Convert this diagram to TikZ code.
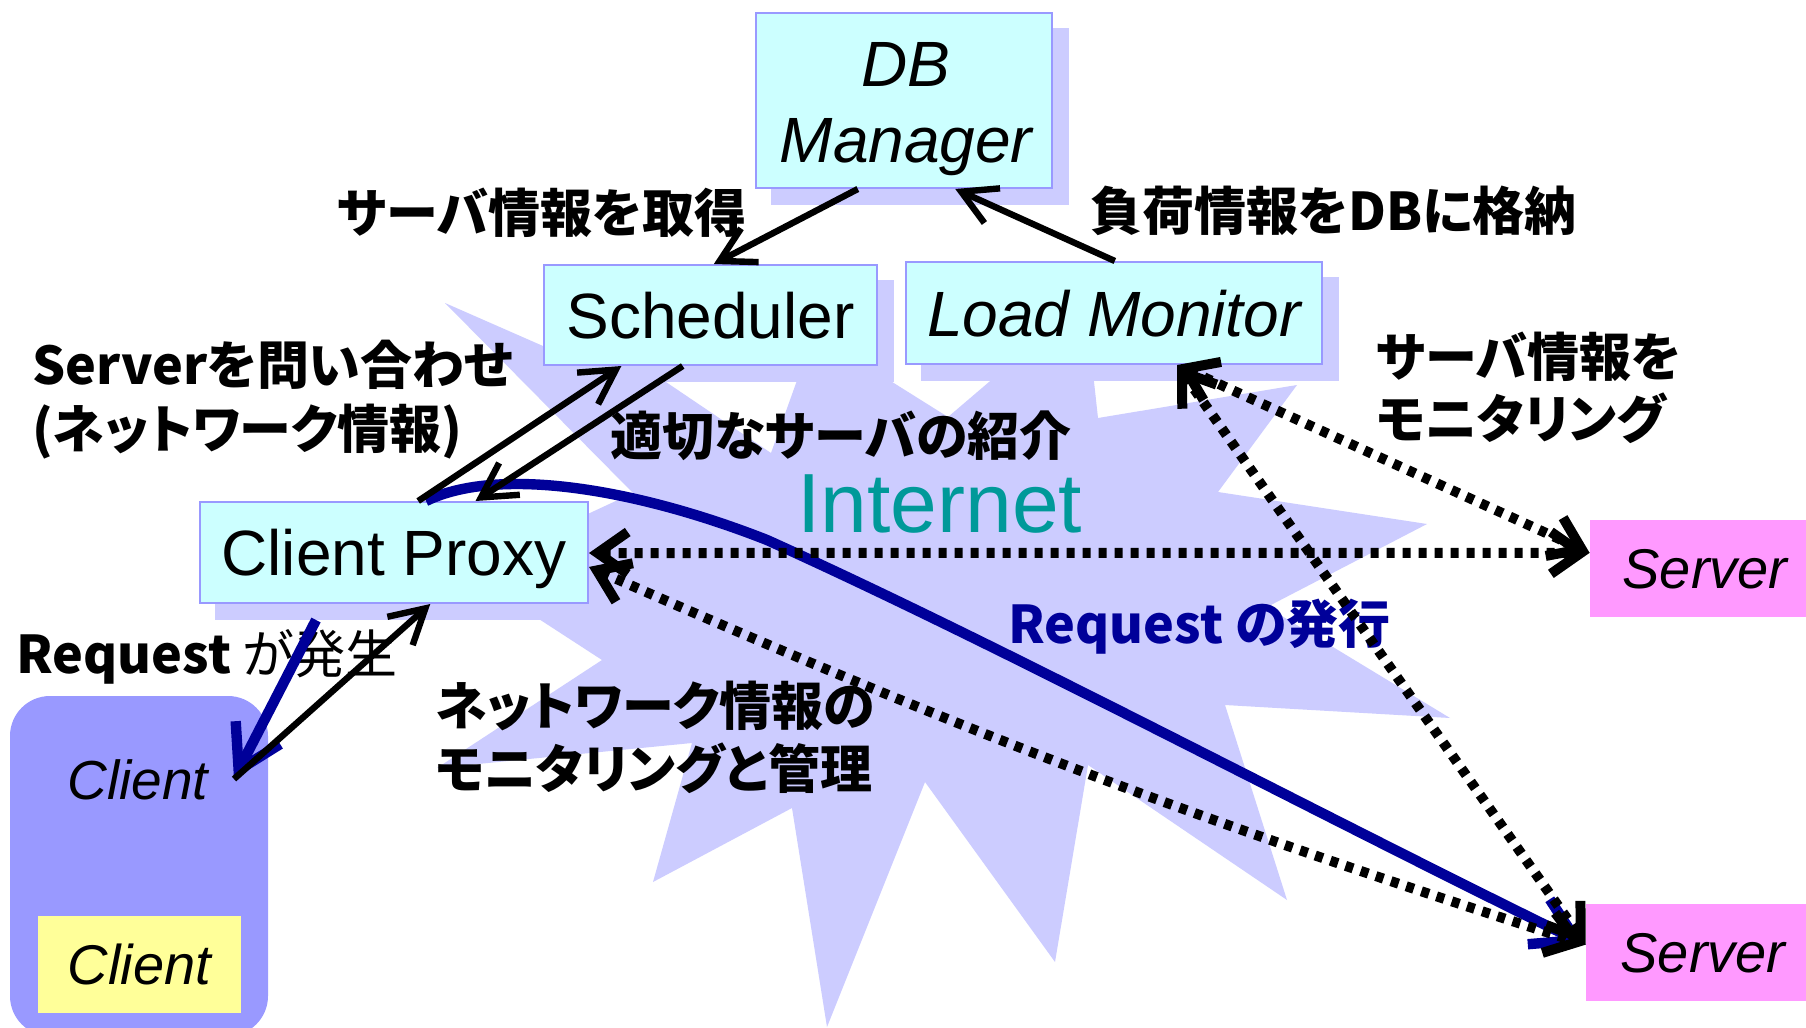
\documentclass[tikz,border=0pt]{standalone}
\usepackage{fontspec}
\setmainfont{Liberation Sans}
\newfontfamily\jpfont[RawFeature=+palt]{Noto Sans CJK JP}
\usetikzlibrary{arrows.meta,calc,backgrounds}

\definecolor{boxfill}{HTML}{CCFFFF}
\definecolor{boxline}{HTML}{9999FF}
\definecolor{netfill}{HTML}{CCCCFF}
\definecolor{clientfill}{HTML}{9999FF}
\definecolor{hostfill}{HTML}{FFFF99}
\definecolor{serverfill}{HTML}{FF99FF}
\definecolor{nettext}{HTML}{009999}
\definecolor{reqblue}{HTML}{000099}

\tikzset{
  compbox/.style={draw=boxline, line width=1pt, fill=boxfill, inner sep=0pt,
    font=\fontsize{32pt}{38pt}\selectfont, text height=23pt, text depth=0pt},
  compital/.style={font=\fontsize{32pt}{38pt}\selectfont\itshape},
  hostbox/.style={inner sep=0pt, font=\fontsize{28pt}{34pt}\selectfont\itshape,
    text height=20pt, text depth=0pt},
  jplabel/.style={inner sep=0pt, anchor=west, align=left,
    font=\fontsize{26pt}{32pt}\jpfont\bfseries},
  link/.style={line width=3.2pt, -{Straight Barb[length=17pt,width=19pt]}},
  probe/.style={line width=5pt, dash pattern=on 4pt off 4pt,
    {Straight Barb[length=15pt,width=21pt]}-{Straight Barb[length=15pt,width=21pt]}},
  reqline/.style={draw=reqblue, line width=5.2pt,
    -{Straight Barb[length=21pt,width=25pt]}},
}

\begin{document}
\begin{tikzpicture}[x=0.5pt, y=-0.5pt]
\useasboundingbox (0,0) rectangle (1806,1028);

% Internet cloud (explosion outline)
\fill[netfill] (445,303) -- (600,371) -- (625,300) -- (660,378) -- (771,453)
  -- (814,333) -- (948,417) -- (1085,300) -- (1098,418) -- (1297,385)
  -- (1218,492) -- (1427,524) -- (1267,607) -- (1450,718) -- (1225,705)
  -- (1287,900) -- (1088,765) -- (1055,962) -- (925,782) -- (827,1027)
  -- (792,808) -- (653,882) -- (692,743) -- (437,768) -- (602,660)
  -- (465,571) -- (633,493) -- cycle;

\node[anchor=base west, inner sep=0pt, text=nettext,
  font=\fontsize{42pt}{50pt}\selectfont] (net) at (797,532) {Internet};

% system components
\node[compbox, minimum width=148pt, minimum height=87.5pt] (db) at (904,100.5) {};
\node[inner sep=0pt, anchor=base, align=center, compital] (dbtext) at (906,162) {DB\\Manager};
\node[compbox, minimum width=166.5pt, minimum height=50pt] (sched) at (710.5,315) {Scheduler};
\node[compbox, compital, minimum width=208pt, minimum height=51pt] (lm) at (1114,313) {Load Monitor};
\node[compbox, minimum width=194pt, minimum height=50.5pt] (proxy) at (394,552.5) {Client Proxy};

% client side
\node[fill=clientfill, rounded corners=20pt, minimum width=129pt,
  minimum height=170pt, inner sep=0pt] (client) at (139,866) {};
\node[anchor=base, inner sep=0pt, font=\fontsize{27.5pt}{33pt}\selectfont\itshape]
  (clienttext) at (138,799) {Client};
\node[hostbox, fill=hostfill, minimum width=101.5pt, minimum height=48.5pt] (host) at (139.5,964.5) {Client};

% servers
\node[hostbox, fill=serverfill, minimum width=115pt, minimum height=48.5pt] (srv1) at (1705,568.5) {Server};
\node[hostbox, fill=serverfill, minimum width=117pt, minimum height=48.5pt] (srv2) at (1703,952.5) {Server};

% box shadows and page background
\begin{scope}[on background layer]
  \fill[white] (0,0) rectangle (1806,1028);
  \foreach \b in {db,sched,lm,proxy}
    \fill[netfill] ([shift={(8pt,-8pt)}]\b.south west) rectangle ([shift={(8pt,-8pt)}]\b.north east);
\end{scope}

% labels
\node[jplabel] (getinfo) at (337,213) {サーバ情報を取得};
\node[jplabel] (store) at (1090,211) {負荷情報をDBに格納};
\node[jplabel] (ask) at (32,400) {Serverを問い合わせ\\(ネットワーク情報)};
\node[jplabel] (pick) at (610,436) {適切なサーバの紹介};
\node[jplabel, font=\fontsize{26pt}{31pt}\jpfont\bfseries] (watch) at (1376,388) {サーバ情報を\\モニタリング};
\node[jplabel, font=\fontsize{26pt}{32pt}\jpfont] (occur) at (16,657) {{\bfseries Request} が発生};
\node[jplabel, font=\fontsize{26pt}{31.5pt}\jpfont\bfseries] (netmon) at (435,737) {ネットワーク情報の\\モニタリングと管理};
\node[jplabel, text=reqblue] (issue) at (1008,627) {Request の発行};

% request flow
\coordinate (hit) at (234,779);
\coordinate (reqmid) at (767,540);
\draw[reqline] ($(proxy.north west)!0.582!(proxy.north east)$)
  .. controls (500,465) and (640,490) .. (reqmid)
  .. controls (1000,645) and (1300,805) .. ($(srv2.north west)!0.42!(srv2.south west)$);
\draw[reqline] ($(proxy.south west)!0.3!(proxy.south east)+(0pt,-8pt)$) -- (hit);

% control messages
\draw[link] ($(db.south west)!0.345!(db.south east)$) -- ($(sched.north west)!0.51!(sched.north east)$);
\draw[link] ($(lm.north west)!0.502!(lm.north east)$) -- ($(db.south west)!0.672!(db.south east)$);
\draw[link] ($(proxy.north west)!0.562!(proxy.north east)$) -- ($(sched.south west)!0.234!(sched.south east)$);
\draw[link] ($(sched.south west)!0.417!(sched.south east)$) -- ($(proxy.north west)!0.709!(proxy.north east)$);
\draw[link] (hit) -- ($(proxy.south west)!0.593!(proxy.south east)$);

% monitoring traffic
\draw[probe] ($(proxy.north east)!0.505!(proxy.south east)$) -- ($(srv1.north west)!0.34!(srv1.south west)$);
\draw[probe] ($(proxy.north east)!0.64!(proxy.south east)$) to[bend right=3] ($(srv2.north west)!0.42!(srv2.south west)$);
\draw[probe] ($(lm.south west)!0.651!(lm.south east)$) -- ($(srv1.north west)!0.34!(srv1.south west)$);
\draw[probe] ($(lm.south west)!0.651!(lm.south east)$) -- ($(srv2.north west)!0.42!(srv2.south west)$);
\end{tikzpicture}
\end{document}
